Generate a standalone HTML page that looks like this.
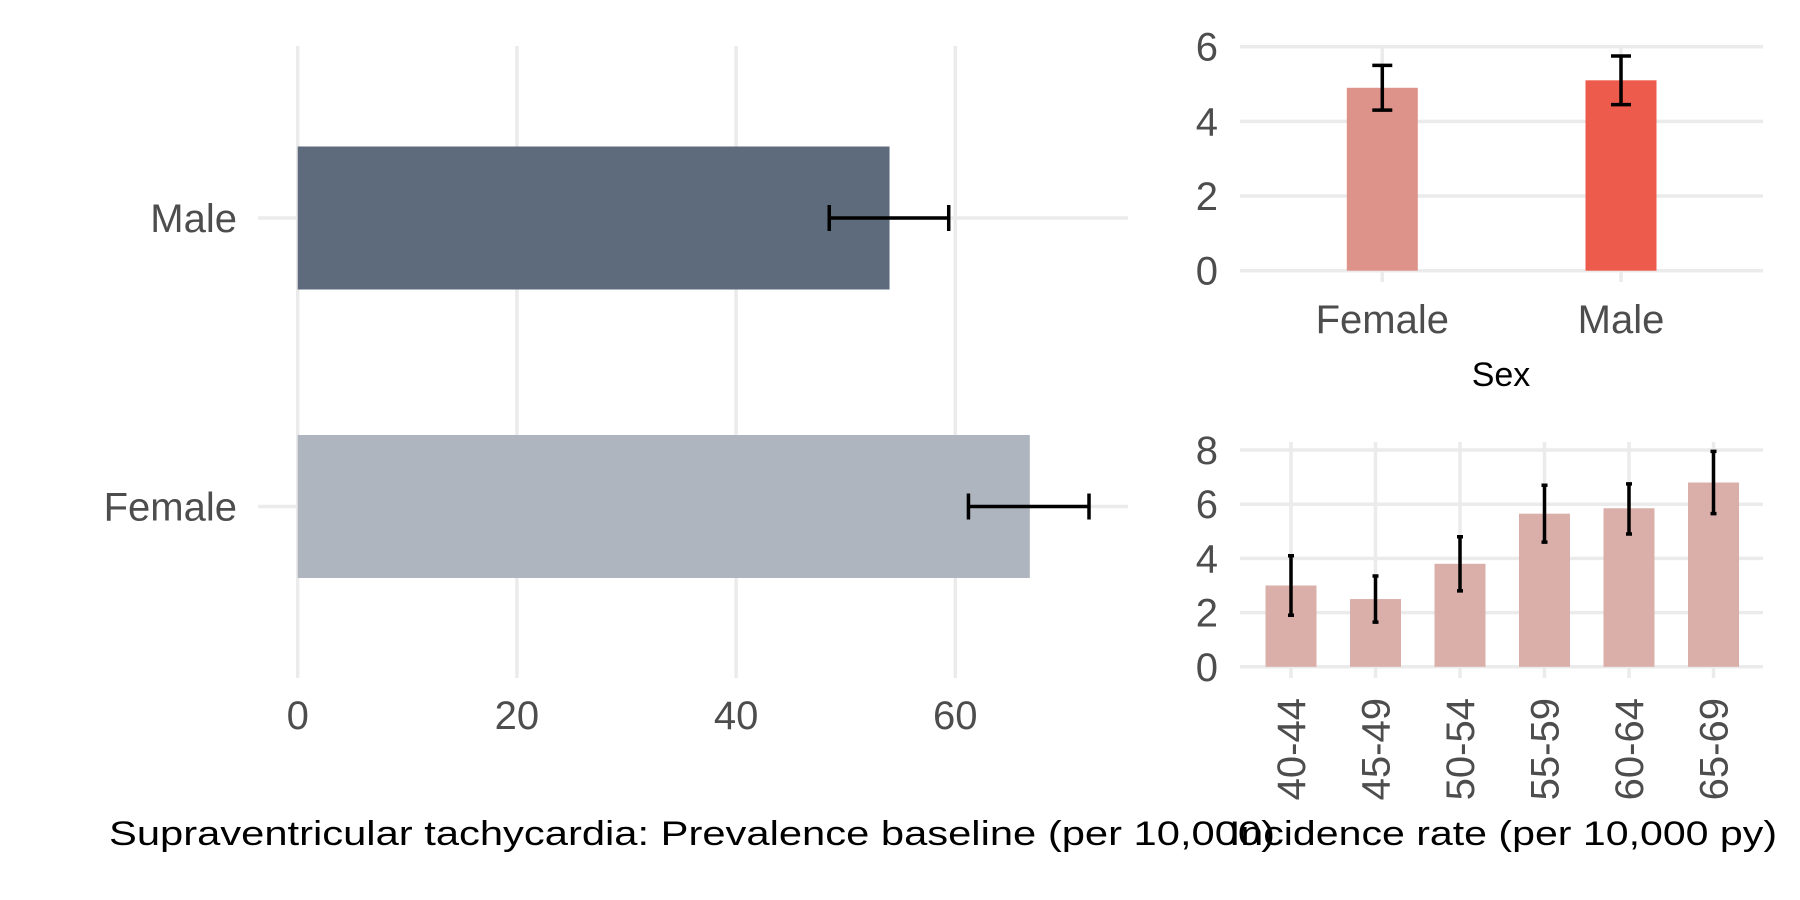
<!DOCTYPE html>
<html><head><meta charset="utf-8"><style>
html,body{margin:0;padding:0;background:#fff;width:1800px;height:900px;overflow:hidden}
svg{display:block;font-family:"Liberation Sans",Arial,sans-serif}
</style></head><body>
<svg id="chart" width="1800" height="900" viewBox="0 0 1800 900" xmlns="http://www.w3.org/2000/svg">
<g id="left"></g>
<g id="topr"></g>
<g id="botr"></g>
<text x="109" y="845" font-size="34" fill="#000" textLength="1166" lengthAdjust="spacingAndGlyphs">Supraventricular tachycardia: Prevalence baseline (per 10,000)</text>
<text x="1229" y="845" font-size="34" fill="#000" textLength="548" lengthAdjust="spacingAndGlyphs">Incidence rate (per 10,000 py)</text>
<text x="1501" y="386" font-size="34" fill="#000" text-anchor="middle">Sex</text>
</svg>
<script>
// Prevalence data
const prevCats = ["Male", "Female"];
const prevVals = [54.0, 66.8];
const prevLo = [48.5, 61.2];
const prevHi = [59.4, 72.2];
const prevTicks = [0, 20, 40, 60];
// Sex incidence
const sexCats = ["Female", "Male"];
const sexVals = [4.9, 5.1];
const sexLo = [4.3, 4.45];
const sexHi = [5.5, 5.75];
const sexTicks = [0, 2, 4, 6];
const sexColors = ["#dd928a", "#ec5b4b"];
// Age incidence
const ageCats = ["40-44", "45-49", "50-54", "55-59", "60-64", "65-69"];
const ageVals = [3.0, 2.5, 3.8, 5.65, 5.85, 6.8];
const ageLo = [1.9, 1.65, 2.8, 4.6, 4.9, 5.65];
const ageHi = [4.1, 3.35, 4.8, 6.7, 6.75, 7.95];
const ageTicks = [0, 2, 4, 6, 8];

const NS = "http://www.w3.org/2000/svg";
function mk(parent, tag, attrs, text) {
  const e = document.createElementNS(NS, tag);
  for (const k in attrs) e.setAttribute(k, attrs[k]);
  if (text !== undefined) e.textContent = text;
  parent.appendChild(e);
  return e;
}
const GRID = "#ebebeb", LBL = "#4d4d4d";

// LEFT PANEL
(function () {
  const g = document.getElementById("left");
  const x = v => 297.7 + v * 10.96;
  const yc = [218, 506.5];
  const bh = 143;
  const colors = ["#5d6b7c", "#aeb5bf"];
  prevTicks.forEach(t => {
    const l = mk(g, "line", {x1: x(t), x2: x(t), y1: 46, y2: 678, stroke: GRID, "stroke-width": 3.5});
    
    
    const tx = mk(g, "text", {x: x(t), y: 729, "font-size": 40, fill: LBL, "text-anchor": "middle"}, t);
    
    
  });
  prevCats.forEach((c, i) => {
    const l = mk(g, "line", {x1: 258, x2: 1128, y1: yc[i], y2: yc[i], stroke: GRID, "stroke-width": 3.5});
    
    
    const tx = mk(g, "text", {x: 237, y: yc[i] + 14, "font-size": 40, fill: LBL, "text-anchor": "end"}, c);
    
    
  });
  prevCats.forEach((c, i) => {
    const r = mk(g, "rect", {x: x(0), y: yc[i] - bh / 2, width: x(prevVals[i]) - x(0), height: bh, fill: colors[i]});
    
    
    const e = mk(g, "path", {d: `M${x(prevLo[i])},${yc[i]}H${x(prevHi[i])}M${x(prevLo[i])},${yc[i]-13}V${yc[i]+13}M${x(prevHi[i])},${yc[i]-13}V${yc[i]+13}`, stroke: "#000", "stroke-width": 3.5, fill: "none"});
    
    
  });
})();

// TOP RIGHT
(function () {
  const g = document.getElementById("topr");
  const y = v => 270.7 - v * 37.33;
  const xc = [1382.3, 1621];
  const bw = 71;
  sexTicks.forEach(t => {
    const l = mk(g, "line", {x1: 1240, x2: 1763, y1: y(t), y2: y(t), stroke: GRID, "stroke-width": 3.5});
    
    
    const tx = mk(g, "text", {x: 1218, y: y(t) + 14, "font-size": 40, fill: LBL, "text-anchor": "end"}, t);
    
    
  });
  sexCats.forEach((c, i) => {
    const l = mk(g, "line", {x1: xc[i], x2: xc[i], y1: 46, y2: 282, stroke: GRID, "stroke-width": 3.5});
    
    
    const tx = mk(g, "text", {x: xc[i], y: 333, "font-size": 40, fill: LBL, "text-anchor": "middle"}, c);
    
    
  });
  sexCats.forEach((c, i) => {
    const r = mk(g, "rect", {x: xc[i] - bw / 2, y: y(sexVals[i]), width: bw, height: y(0) - y(sexVals[i]), fill: sexColors[i]});
    
    
    const e = mk(g, "path", {d: `M${xc[i]},${y(sexLo[i])}V${y(sexHi[i])}M${xc[i]-10},${y(sexLo[i])}H${xc[i]+10}M${xc[i]-10},${y(sexHi[i])}H${xc[i]+10}`, stroke: "#000", "stroke-width": 3.5, fill: "none"});
    
    
  });
})();

// BOTTOM RIGHT
(function () {
  const g = document.getElementById("botr");
  const y = v => 666.8 - v * 27.1;
  const x = i => 1291 + i * 84.5;
  const bw = 51;
  ageTicks.forEach(t => {
    const l = mk(g, "line", {x1: 1240, x2: 1763, y1: y(t), y2: y(t), stroke: GRID, "stroke-width": 3.5});
    
    
    const tx = mk(g, "text", {x: 1218, y: y(t) + 14, "font-size": 40, fill: LBL, "text-anchor": "end"}, t);
    
    
  });
  ageCats.forEach((c, i) => {
    const l = mk(g, "line", {x1: x(i), x2: x(i), y1: 442, y2: 678, stroke: GRID, "stroke-width": 3.5});
    
    
    const tx = mk(g, "text", {x: 0, y: 0, "font-size": 40, fill: LBL, "text-anchor": "end", transform: `translate(${x(i) + 14},698) rotate(-90)`}, c);
    
    
  });
  ageCats.forEach((c, i) => {
    const r = mk(g, "rect", {x: x(i) - bw / 2, y: y(ageVals[i]), width: bw, height: y(0) - y(ageVals[i]), fill: "#dbafa9"});
    
    
    const e = mk(g, "path", {d: `M${x(i)},${y(ageLo[i])}V${y(ageHi[i])}M${x(i)-3},${y(ageLo[i])}H${x(i)+3}M${x(i)-3},${y(ageHi[i])}H${x(i)+3}`, stroke: "#000", "stroke-width": 3.5, fill: "none"});
    
    
  });
})();
</script>
</body></html>
